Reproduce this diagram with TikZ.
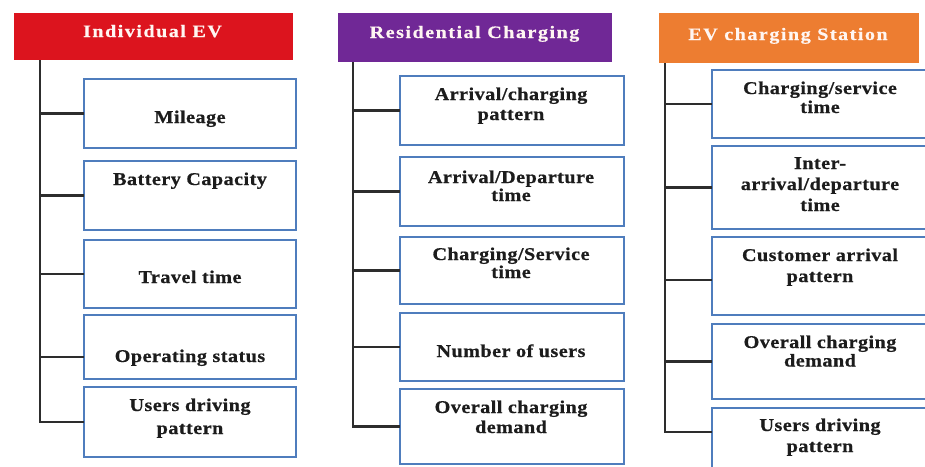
\documentclass[tikz,border=0pt]{standalone}
\usepackage{fontspec}
\setmainfont{Liberation Serif}
\newfontfamily\headfont{Liberation Serif}[FakeStretch=1.15, LetterSpace=8.5, FakeBold=0.5]
\newfontfamily\itemfont{Liberation Serif}[FakeStretch=1.12, LetterSpace=2.6, FakeBold=0.6]

\definecolor{evred}{RGB}{220,20,30}
\definecolor{evpurple}{RGB}{112,40,150}
\definecolor{evorange}{RGB}{237,125,49}
\definecolor{boxblue}{RGB}{79,125,189}
\definecolor{linegray}{RGB}{45,45,45}
\definecolor{itemink}{RGB}{28,28,28}
\definecolor{headink}{RGB}{255,246,242}

\begin{document}
\begin{tikzpicture}[x=1pt,y=-1pt,
  headbox/.style={rectangle, inner sep=0pt, outer sep=0pt},
  headtext/.style={anchor=base, inner sep=0pt, text=headink,
    font=\headfont\bfseries\fontsize{17.5}{20}\selectfont},
  itembox/.style={rectangle, draw=boxblue, line width=2.2pt, fill=white,
    inner sep=0pt, outer sep=0pt},
  % anchor=base sits on the baseline of the last line
  itemtext/.style={anchor=base, inner sep=0pt, align=center, text=itemink,
    font=\itemfont\bfseries\fontsize{18}{#1}\selectfont},
  itemtext/.default=20,
  conn/.style={draw=linegray, line width=2.5pt},
]
\useasboundingbox (0,0) rectangle (925,466);
\clip (0,0) rectangle (925,466);

% ---- column headers
\node[headbox, fill=evred,    minimum width=279pt, minimum height=47pt] (h1) at (153.5,36.5) {};
\node[headbox, fill=evpurple, minimum width=274pt, minimum height=49pt] (h2) at (475,37.5) {};
\node[headbox, fill=evorange, minimum width=260pt, minimum height=50pt] (h3) at (789,38) {};
\node[headtext] (h1t) at (152.5,37) {Individual EV};
\node[headtext] (h2t) at (474.5,38) {Residential Charging};
\node[headtext] (h3t) at (788,40) {EV charging Station};

% ---- Individual EV items
\node[itembox, minimum width=212pt, minimum height=69pt] (a1) at (190,113.5) {};
\node[itembox, minimum width=212pt, minimum height=69pt] (a2) at (190,195.5) {};
\node[itembox, minimum width=212pt, minimum height=68pt] (a3) at (190,274) {};
\node[itembox, minimum width=212pt, minimum height=64pt] (a4) at (190,347) {};
\node[itembox, minimum width=212pt, minimum height=70pt] (a5) at (190,422) {};
\node[itemtext] (a1t) at (190,123) {Mileage};
\node[itemtext] (a2t) at (190,185) {Battery Capacity};
\node[itemtext] (a3t) at (190,283) {Travel time};
\node[itemtext] (a4t) at (190,362) {Operating status};
\node[itemtext=23] (a5t) at (190,434) {Users driving\\pattern};

% ---- Residential Charging items
\node[itembox, minimum width=224pt, minimum height=69pt] (b1) at (512,110.5) {};
\node[itembox, minimum width=224pt, minimum height=69pt] (b2) at (512,191.5) {};
\node[itembox, minimum width=224pt, minimum height=67pt] (b3) at (512,270.5) {};
\node[itembox, minimum width=224pt, minimum height=68pt] (b4) at (512,347) {};
\node[itembox, minimum width=224pt, minimum height=75pt] (b5) at (512,426.5) {};
\node[itemtext] (b1t) at (511,120) {Arrival/charging\\pattern};
\node[itemtext=18] (b2t) at (511,201) {Arrival/Departure\\time};
\node[itemtext=18] (b3t) at (511,278) {Charging/Service\\time};
\node[itemtext] (b4t) at (511,357) {Number of users};
\node[itemtext] (b5t) at (511,433) {Overall charging\\demand};

% ---- EV charging Station items
\node[itembox, minimum width=220pt, minimum height=68pt] (c1) at (822,104) {};
\node[itembox, minimum width=220pt, minimum height=83pt] (c2) at (822,187.5) {};
\node[itembox, minimum width=220pt, minimum height=78pt] (c3) at (822,276) {};
\node[itembox, minimum width=220pt, minimum height=75pt] (c4) at (822,361.5) {};
\node[itembox, minimum width=220pt, minimum height=70pt] (c5) at (822,443) {};
\node[itemtext=19] (c1t) at (820,113) {Charging/service\\time};
\node[itemtext=21] (c2t) at (820,211) {Inter-\\arrival/departure\\time};
\node[itemtext=21] (c3t) at (820,282) {Customer arrival\\pattern};
\node[itemtext=18.5] (c4t) at (820,366.5) {Overall charging\\demand};
\node[itemtext=21] (c5t) at (820,452) {Users driving\\pattern};

% ---- tree connectors
\coordinate (t1) at ([xshift=26pt]h1.south west);
\coordinate (t2) at ([xshift=15pt]h2.south west);
\coordinate (t3) at ([xshift=6pt]h3.south west);
\coordinate (a4c) at ([yshift=-10pt]a4.west);
\coordinate (c3c) at ([yshift=-4pt]c3.west);
\coordinate (c5c) at ([yshift=11pt]c5.west);

\draw[conn] (t1) |- (a5.west);
\foreach \n in {a1,a2,a3,a4c}
  \draw[conn] (t1 |- \n) -- (\n);

\draw[conn] (t2) |- (b5.west);
\foreach \n in {b1,b2,b3,b4}
  \draw[conn] (t2 |- \n.west) -- (\n.west);

\draw[conn] (t3) |- (c5c);
\foreach \n in {c1,c2,c3c,c4}
  \draw[conn] (t3 |- \n) -- (\n);
\end{tikzpicture}
\end{document}
